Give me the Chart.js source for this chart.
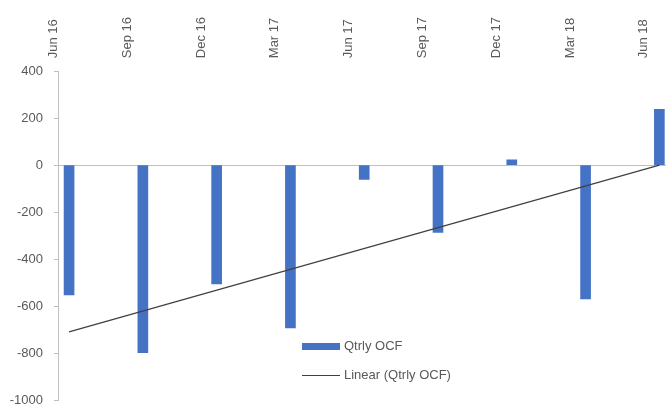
<!DOCTYPE html>
<html>
<head>
<meta charset="utf-8">
<script src="https://cdn.jsdelivr.net/npm/chart.js@4"></script>
<style>
  html, body { margin: 0; padding: 0; background: #ffffff; }
  #wrap { width: 666px; height: 412px; position: relative; }
</style>
</head>
<body>
<div id="wrap"><canvas id="ocfChart"></canvas></div>
<script>
// ============================================================
// DATA
// ============================================================

const quarters = ["Jun 16", "Sep 16", "Dec 16", "Mar 17", "Jun 17", "Sep 17", "Dec 17", "Mar 18", "Jun 18"];
const qtrlyOcf = [-553, -799, -506, -693, -61, -286, 23, -570, 238];
// trendline end points (first and last quarter)
const trendOcf = [-710, null, null, null, null, null, null, null, 0];

const barLabel = "Qtrly OCF";
const trendLabel = "Linear (Qtrly OCF)";

const yMin = -1000;
const yMax = 400;
const yStep = 200;

// ============================================================
// STYLE
// ============================================================

const barColor = "#4472C4";
const trendColor = "#404040";
const axisColor = "#BFBFBF";
const textColor = "#595959";
const fontFamily = "'Liberation Sans', Arial, sans-serif";

Chart.defaults.font.family = fontFamily;
Chart.defaults.font.size = 13;
Chart.defaults.color = textColor;

// legend drawn inside the plot, stacked, like the original
const insideLegend = {
  id: "insideLegend",
  afterDraw(chart) {
    const ctx = chart.ctx;
    ctx.save();
    ctx.font = "13px " + fontFamily;
    ctx.textBaseline = "middle";
    ctx.textAlign = "left";

    ctx.fillStyle = barColor;
    ctx.fillRect(302, 343, 38, 7);
    ctx.fillStyle = textColor;
    ctx.fillText(chart.data.datasets[0].label, 344, 346.5);

    ctx.strokeStyle = trendColor;
    ctx.lineWidth = 1;
    ctx.beginPath();
    ctx.moveTo(302, 375.5);
    ctx.lineTo(340, 375.5);
    ctx.stroke();
    ctx.fillText(chart.data.datasets[1].label, 344, 375.5);
    ctx.restore();
  }
};

const barPoints = qtrlyOcf.map(function(v, i) { return { x: i, y: v }; });
const trendPoints = trendOcf
  .map(function(v, i) { return { x: i, y: v }; })
  .filter(function(p) { return p.y !== null; });

const ctx = document.getElementById("ocfChart").getContext("2d");

const ocfChart = new Chart(ctx, {
  type: "bar",
  data: {
    datasets: [
      {
        type: "bar",
        label: barLabel,
        data: barPoints,
        backgroundColor: barColor,
        barThickness: 10,
        order: 1
      },
      {
        type: "line",
        label: trendLabel,
        data: trendPoints,
        borderColor: trendColor,
        borderWidth: 1.2,
        pointRadius: 0,
        fill: false,
        order: 0
      }
    ]
  },
  options: {
    responsive: true,
    maintainAspectRatio: false,
    animation: false,
    layout: {
      padding: { top: 12, left: 0, right: 0, bottom: 12 }
    },
    plugins: {
      legend: { display: false },
      tooltip: { enabled: false }
    },
    scales: {
      x: {
        type: "linear",
        position: "top",
        offset: false,
        min: -0.15,
        max: 8.09,
        grid: { display: false },
        border: { display: false },
        afterBuildTicks: function(axis) {
          axis.ticks = quarters.map(function(q, i) { return { value: i }; });
        },
        ticks: {
          autoSkip: false,
          minRotation: 90,
          maxRotation: 90,
          padding: 5,
          callback: function(value) {
            return quarters[value];
          }
        }
      },
      y: {
        min: yMin,
        max: yMax,
        afterFit: function(axis) {
          axis.width = 58;
          axis.paddingBottom = 0;
        },
        border: { display: true, color: axisColor, width: 1 },
        grid: {
          drawOnChartArea: true,
          color: function(c) {
            return c.tick && c.tick.value === 0 ? axisColor : "rgba(0,0,0,0)";
          },
          tickColor: axisColor,
          tickLength: 4
        },
        ticks: {
          stepSize: yStep,
          padding: 11,
          callback: function(value) {
            return String(value);
          }
        }
      }
    }
  },
  plugins: [insideLegend]
});
</script>
</body>
</html>
